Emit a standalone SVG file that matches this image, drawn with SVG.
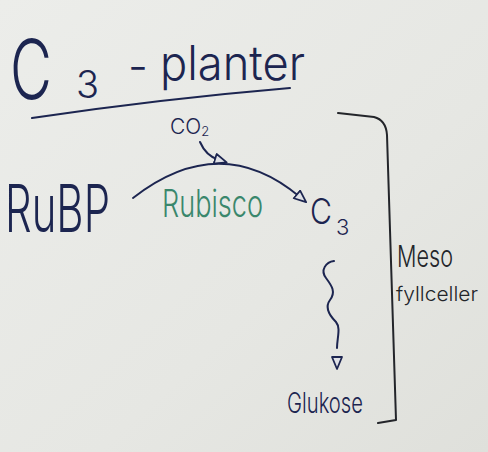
<svg xmlns="http://www.w3.org/2000/svg" width="488" height="452" viewBox="0 0 488 452">
  <defs>
    <linearGradient id="bg" x1="0" y1="0" x2="1" y2="1">
      <stop offset="0" stop-color="#ecedea"/>
      <stop offset="0.6" stop-color="#e6e7e3"/>
      <stop offset="1" stop-color="#dfe0db"/>
    </linearGradient>
    <marker id="tri" viewBox="0 0 14 12" markerWidth="14" markerHeight="12" refX="5" refY="6" orient="auto" markerUnits="userSpaceOnUse">
      <path d="M1,1 L13,6 L1,11 Z" fill="#dfe1e6" stroke="#1c2550" stroke-width="1.8" stroke-linejoin="round"/>
    </marker>
    <marker id="triGap" viewBox="-10 0 24 12" markerWidth="24" markerHeight="12" refX="-8" refY="6" orient="auto" markerUnits="userSpaceOnUse">
      <path d="M1,1 L13,6 L1,11 Z" fill="#dfe1e6" stroke="#1c2550" stroke-width="1.8" stroke-linejoin="round"/>
    </marker>
  </defs>
  <style>
    .navy { fill: #1c2550; font-family: "Inter", "Lato", "Liberation Sans", sans-serif; font-weight: 300; }
    .green { fill: #3a876c; font-family: "Inter", "Lato", "Liberation Sans", sans-serif; font-weight: 300; }
    .black { fill: #23252a; font-family: "Inter", "Lato", "Liberation Sans", sans-serif; font-weight: 300; }
    .pen { fill: none; stroke: #1c2550; stroke-width: 2; stroke-linecap: round; stroke-linejoin: round; }
    .pendark { fill: none; stroke: #23252a; stroke-width: 2; stroke-linecap: round; stroke-linejoin: round; }
  </style>
  <rect x="0" y="0" width="488" height="452" fill="url(#bg)"/>

  <g id="title">
    <text class="navy" x="10" y="99" font-size="82" textLength="42" lengthAdjust="spacingAndGlyphs">C</text>
    <text class="navy" x="76" y="98" font-size="38">3</text>
    <text class="navy" x="128" y="82" font-size="44">-</text>
    <text class="navy" x="160" y="80" font-size="48" textLength="145" lengthAdjust="spacingAndGlyphs">planter</text>
  </g>

  <g id="rubp">
    <text class="navy" x="5" y="232" font-size="66" textLength="105" lengthAdjust="spacingAndGlyphs">RuBP</text>
  </g>

  <g id="co2">
    <text class="navy" x="170" y="134" font-size="21">CO<tspan font-size="13" dy="2">2</tspan></text>
  </g>

  <g id="rubisco">
    <text class="green" x="162" y="217" font-size="38" textLength="101" lengthAdjust="spacingAndGlyphs">Rubisco</text>
  </g>

  <g id="c3">
    <text class="navy" x="310" y="224" font-size="36" textLength="22" lengthAdjust="spacingAndGlyphs">C</text>
    <text class="navy" x="336" y="235" font-size="22">3</text>
  </g>

  <g id="glukose">
    <text class="navy" x="287" y="413" font-size="28" textLength="76" lengthAdjust="spacingAndGlyphs">Glukose</text>
  </g>

  <g id="mesofyll">
    <text class="black" x="397" y="267" font-size="30" textLength="56" lengthAdjust="spacingAndGlyphs">Meso</text>
    <text class="black" x="396" y="301" font-size="20" textLength="82" lengthAdjust="spacingAndGlyphs">fyllceller</text>
  </g>

  <g id="connectors">
    <path class="pen" d="M32,118 Q160,99 290,88"/>
    <path class="pen" d="M200,142 Q206,156 219,160" marker-end="url(#tri)"/>
    <path class="pen" d="M133,198 Q220,130 300,197" marker-end="url(#tri)"/>
    <path class="pen" d="M334,261 C326,262 320,270 326,278 C332,286 336,292 330,300 C324,308 330,316 336,322 C341,328 337,338 337,348" marker-end="url(#triGap)"/>
    <path class="pendark" d="M338,113 L374,117 Q386,120 387,135 L396,420 L378,423"/>
  </g>
</svg>
